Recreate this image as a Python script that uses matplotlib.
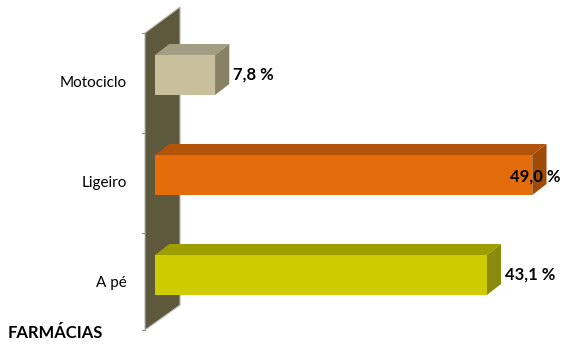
import matplotlib.pyplot as plt
from matplotlib.patches import Polygon

categories = ["A pé", "Ligeiro", "Motociclo"]
values = [43.1, 49.0, 7.8]
value_labels = ["43,1 %", "49,0 %", "7,8 %"]
front_colors = ["#cccc00", "#e46c0a", "#c8c09c"]
top_colors = ["#9e9e00", "#b2540a", "#a29e84"]
side_colors = ["#8a8a0c", "#9e4a08", "#878166"]
title = "FARMÁCIAS"

plt.rcParams['font.family'] = ['Lato', 'DejaVu Sans']

fig = plt.figure(figsize=(5.64, 3.44), dpi=100)
ax = fig.add_axes([0, 0, 1, 1])
ax.set_xlim(-20.13, 53.12)
ax.set_ylim(-0.69, 2.75)
ax.axis('off')

bar_h = 0.4
dx, dy = 1.85, 0.11

# back wall (3d look)
wall = Polygon([(-1.3, -0.55), (-1.3, 2.42), (3.25, 2.68), (3.25, -0.30)],
               closed=True, facecolor="#5e583c", edgecolor="#b8b8b8", lw=0.8, zorder=1)
ax.add_patch(wall)
for yt in [-0.55, 0.42, 1.42, 2.42]:
    ax.plot([-1.65, -1.3], [yt, yt], color="#909090", lw=0.8, zorder=1)

ys = list(range(len(categories)))
ax.barh(ys, values, height=bar_h, left=0, color=front_colors, zorder=3)

for y, v, tc, sc in zip(ys, values, top_colors, side_colors):
    top = Polygon([(0, y + bar_h / 2), (v, y + bar_h / 2),
                   (v + dx, y + bar_h / 2 + dy), (dx, y + bar_h / 2 + dy)],
                  closed=True, facecolor=tc, edgecolor='none', zorder=2)
    side = Polygon([(v, y - bar_h / 2), (v, y + bar_h / 2),
                    (v + dx, y + bar_h / 2 + dy), (v + dx, y - bar_h / 2 + dy)],
                   closed=True, facecolor=sc, edgecolor='none', zorder=2)
    ax.add_patch(top)
    ax.add_patch(side)

for y, cat in zip(ys, categories):
    ax.text(-3.64, y - 0.08, cat, ha='right', va='center', fontsize=11)

xmax = ax.get_xlim()[1]
for y, v, lab in zip(ys, values, value_labels):
    if v + 2.3 + 6 > xmax:
        ax.text(xmax - 0.4, y - 0.02, lab, ha='right', va='center',
                fontsize=12, fontweight='bold')
    else:
        ax.text(v + 2.3, y, lab, ha='left', va='center',
                fontsize=12, fontweight='bold')

fig.text(8 / 564, 1 - 333 / 344, title, ha='left', va='center',
         fontsize=12, fontweight='bold')

fig.savefig("out.png", dpi=100)
